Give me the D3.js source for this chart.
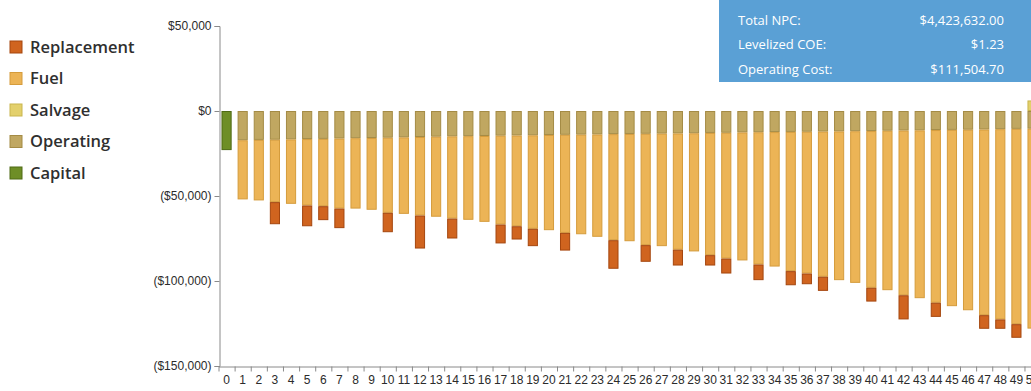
<!DOCTYPE html>
<html>
<head>
<meta charset="utf-8">
<script src="https://cdn.jsdelivr.net/npm/d3@7"></script>
<style>
  html, body { margin: 0; padding: 0; background: #fff; }
  svg { display: block; font-family: "Open Sans", "Noto Sans", sans-serif; }
</style>
</head>
<body>
<svg id="chart" width="1031" height="391"></svg>
<script>
// Project years shown on the horizontal axis
const years = d3.range(0, 51);

// Discounted cash flow per year, in dollars (costs negative)
const capital = [-23000].concat(new Array(50).fill(0));
const operating = [0,
  -17200, -17000, -16900, -16700, -16500, -16400, -16200, -16000, -15900, -15700,
  -15500, -15300, -15100, -14900, -14800, -14700, -14500, -14400, -14300, -14100,
  -14000, -13900, -13800, -13600, -13500, -13400, -13300, -13200, -13100, -12900,
  -12800, -12600, -12500, -12400, -12300, -12200, -12100, -12000, -11900, -11800,
  -11600, -11500, -11400, -11200, -11100, -11000, -10900, -10700, -10500, -10400];
const fuel = [0,
  -34800, -35600, -36700, -37900, -39100, -39600, -41200, -41400, -42200, -44200,
  -45000, -46200, -47100, -48400, -49200, -50500, -52300, -53400, -55000, -56000,
  -57700, -58600, -60200, -62400, -63100, -65500, -66200, -68400, -69500, -71900,
  -74000, -75300, -77800, -79100, -81900, -83400, -85400, -87500, -89200, -92200,
  -93800, -96900, -98700, -101600, -103700, -106200, -109200, -111900, -114900, -117600];
const replacement = [0,
  0, 0, -13000, 0, -12200, -8200, -11500, 0, 0, -11400,
  0, -19400, 0, -11700, 0, 0, -11100, -7800, -10200, 0,
  -10400, 0, 0, -16800, 0, -9800, 0, -9300, 0, -6100,
  -8800, 0, -9200, 0, -8300, -6300, -8300, 0, 0, -8100,
  0, -14200, 0, -8300, 0, 0, -8000, -5500, -8000, 0];
const salvage = new Array(50).fill(0).concat([6200]);

// Legend order and tick values
const legendLabels = ["Replacement", "Fuel", "Salvage", "Operating", "Capital"];
const yTicks = [50000, 0, -50000, -100000, -150000];

// Summary figures
const summaryLabels = ["Total NPC:", "Levelized COE:", "Operating Cost:"];
const summaryValues = ["$4,423,632.00", "$1.23", "$111,504.70"];

const colors = {
  Capital:     { fill: "#6e8e26", stroke: "#4e6a14" },
  Operating:   { fill: "#c0a761", stroke: "#a48b45" },
  Fuel:        { fill: "#ecb456", stroke: "#d59c3c" },
  Replacement: { fill: "#d0641f", stroke: "#a5460e" },
  Salvage:     { fill: "#e3d06c", stroke: "#c9b64e" }
};

const seriesValues = {
  Capital: capital, Operating: operating, Fuel: fuel,
  Replacement: replacement, Salvage: salvage
};
const stackKeys = ["Capital", "Operating", "Fuel", "Replacement", "Salvage"];

const rows = years.map((yr, i) => {
  const r = { year: yr };
  stackKeys.forEach(k => { r[k] = seriesValues[k][i]; });
  return r;
});

const svg = d3.select("#chart");

const x = d3.scaleBand()
  .domain(years)
  .range([218.5, 1040.6])
  .paddingInner(0.37)
  .paddingOuter(0.185);

const y = d3.scaleLinear()
  .domain([-150000, 50000])
  .range([366, 26]);

const stacked = d3.stack()
  .keys(stackKeys)
  .offset(d3.stackOffsetDiverging)(rows);

// Bars
const layers = svg.append("g").selectAll("g")
  .data(stacked)
  .join("g")
  .attr("fill", d => colors[d.key].fill)
  .attr("stroke", d => colors[d.key].stroke)
  .attr("stroke-width", 1);

layers.selectAll("rect")
  .data(d => d.filter(p => p[0] !== p[1]))
  .join("rect")
  .attr("x", p => x(p.data.year) + 0.5)
  .attr("width", x.bandwidth() - 1)
  .attr("y", p => y(Math.max(p[0], p[1])) + 0.5)
  .attr("height", p => Math.max(0, Math.abs(y(p[0]) - y(p[1])) - 1));

// Currency formatting with parentheses for negatives
const fmt = d3.format(",");
const money = v => v < 0 ? "($" + fmt(-v) + ")" : "$" + fmt(v);

// Y axis
const yAxis = svg.append("g")
  .attr("transform", "translate(219.5,0)")
  .call(d3.axisLeft(y).tickValues(yTicks).tickFormat(money).tickSizeOuter(0).tickSize(5).tickPadding(3));
yAxis.select(".domain").attr("stroke", "#8a8a8a");
yAxis.selectAll(".tick line").attr("stroke", "#8a8a8a");
yAxis.selectAll("text").attr("fill", "#2b2b2b").style("font-size", "12px");

// X axis: ticks on band boundaries, labels on band centres
const xEdge = d3.scaleLinear().domain([0, years.length]).range(x.range());
const xTickG = svg.append("g")
  .attr("transform", "translate(0,366.5)")
  .call(d3.axisBottom(xEdge).tickValues(d3.range(0, years.length + 1)).tickFormat("").tickSize(5).tickSizeOuter(0));
xTickG.select(".domain").attr("stroke", "#8a8a8a");
xTickG.selectAll(".tick line").attr("stroke", "#8a8a8a");

const xLabelG = svg.append("g")
  .attr("transform", "translate(0,366.5)")
  .call(d3.axisBottom(x).tickSize(0).tickPadding(9));
xLabelG.select(".domain").remove();
xLabelG.selectAll("text").attr("fill", "#2b2b2b").style("font-size", "12px");

// Legend
const legend = svg.append("g").selectAll("g")
  .data(legendLabels)
  .join("g")
  .attr("transform", (d, i) => `translate(10,${47 + i * 31.5})`);
legend.append("rect")
  .attr("x", 0).attr("y", -6).attr("width", 12).attr("height", 12)
  .attr("fill", d => colors[d].fill)
  .attr("stroke", d => colors[d].stroke);
legend.append("text")
  .attr("x", 20).attr("y", 0).attr("dy", "0.35em")
  .attr("fill", "#2f2f2f")
  .style("font-size", "16.5px")
  .style("font-weight", "600")
  .text(d => d);

// Summary box
const box = svg.append("g");
box.append("rect")
  .attr("x", 719).attr("y", 0).attr("width", 312).attr("height", 82)
  .attr("fill", "#5aa0d5");
box.selectAll("text.lbl")
  .data(summaryLabels)
  .join("text")
  .attr("class", "lbl")
  .attr("x", 738).attr("y", (d, i) => 20 + i * 24.5).attr("dy", "0.35em")
  .attr("fill", "#fff").style("font-size", "13px")
  .text(d => d);
box.selectAll("text.val")
  .data(summaryValues)
  .join("text")
  .attr("class", "val")
  .attr("x", 1004).attr("y", (d, i) => 20 + i * 24.5).attr("dy", "0.35em")
  .attr("text-anchor", "end")
  .attr("fill", "#fff").style("font-size", "13px")
  .text(d => d);
</script>
</body>
</html>
